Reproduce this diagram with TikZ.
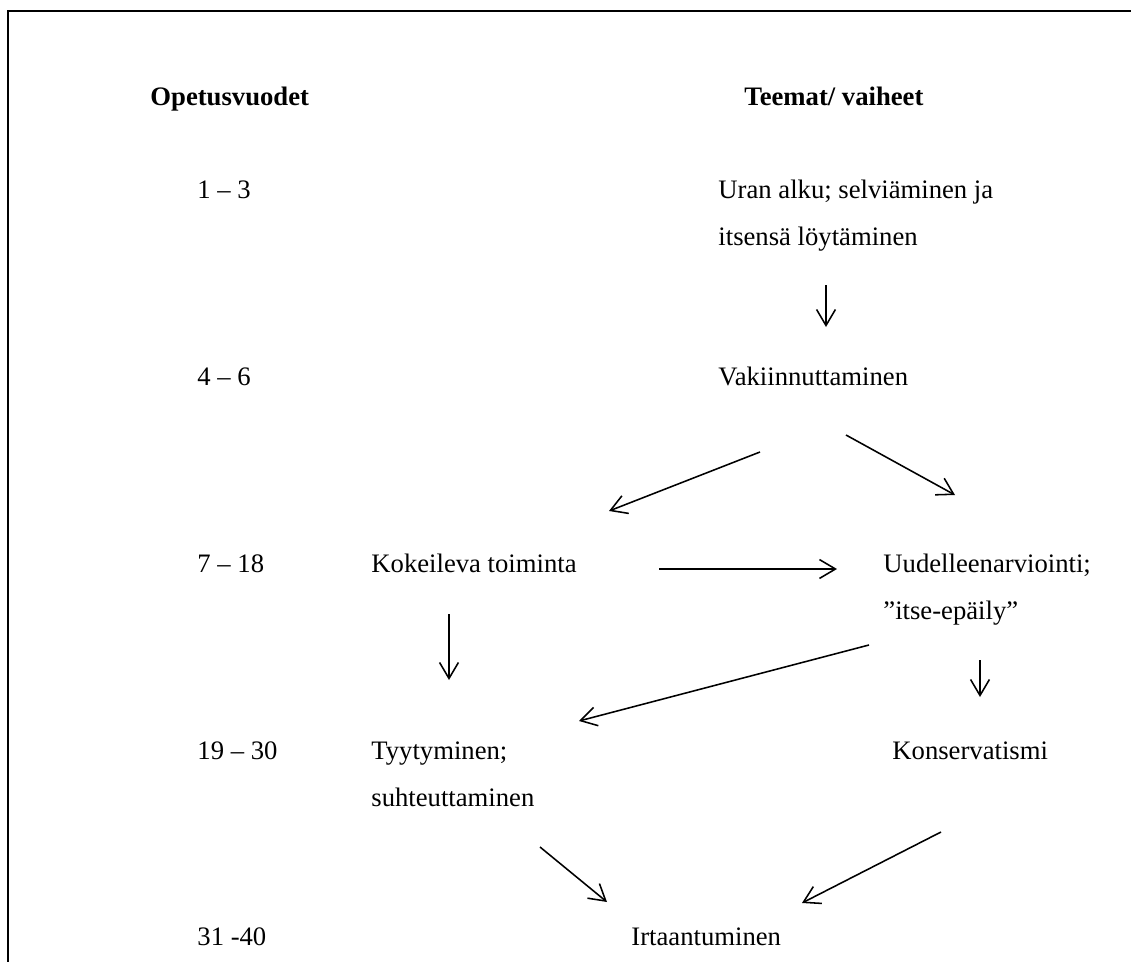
\documentclass[tikz,border=0pt]{standalone}
\usepackage{fontspec}
\setmainfont{Liberation Serif}
\usetikzlibrary{arrows.meta}
\begin{document}
\begin{tikzpicture}[x=0.45pt,y=-0.45pt,
  txt/.style={anchor=base west, inner sep=0pt, font=\fontsize{12pt}{14pt}\selectfont},
  hdr/.style={anchor=base west, inner sep=0pt, font=\fontsize{12pt}{14pt}\selectfont\bfseries},
  arr/.style={-{Straight Barb[length=7.2pt,width=8.5pt]}, line width=0.7pt},
  frameline/.style={line width=0.9pt}]
\useasboundingbox (0,0) rectangle (1131,962);
% frame
\coordinate (fbl) at (8,962);
\coordinate (ftl) at (8,10.5);
\coordinate (ftr) at (1131,10.5);
\draw[frameline] (fbl) -- (ftl) -- (ftr);
% headers
\node[hdr] (hdr1) at (150,105) {Opetusvuodet};
\node[hdr] (hdr2) at (744,105) {Teemat/ vaiheet};
% rows
\node[txt] (y1) at (197,198) {1 – 3};
\node[txt] (uran1) at (718,198) {Uran alku; selviäminen ja};
\node[txt] (uran2) at (718,245) {itsensä löytäminen};
\node[txt] (y2) at (197,385) {4 – 6};
\node[txt] (vak) at (718,385) {Vakiinnuttaminen};
\node[txt] (y3) at (197,572) {7 – 18};
\node[txt] (kok) at (371,572) {Kokeileva toiminta};
\node[txt] (uud1) at (883,572) {Uudelleenarviointi;};
\node[txt] (uud2) at (883,619) {”itse-epäily”};
\node[txt] (y4) at (197,759) {19 – 30};
\node[txt] (tyy1) at (371,759) {Tyytyminen;};
\node[txt] (tyy2) at (371,806) {suhteuttaminen};
\node[txt] (kon) at (892,759) {Konservatismi};
\node[txt] (y5) at (197,945) {31 -40};
\node[txt] (irt) at (631,945) {Irtaantuminen};
% arrow end points
\coordinate (a1s) at (826,285); \coordinate (a1e) at (826,327);
\coordinate (a2s) at (760,452); \coordinate (a2e) at (609,511);
\coordinate (a3s) at (846,435); \coordinate (a3e) at (955,495);
\coordinate (a4s) at (659,569); \coordinate (a4e) at (837,569);
\coordinate (a5s) at (449,614); \coordinate (a5e) at (449,680);
\coordinate (a6s) at (869,645); \coordinate (a6e) at (579,721);
\coordinate (a7s) at (980,660); \coordinate (a7e) at (980,697);
\coordinate (a8s) at (540,847); \coordinate (a8e) at (607,902);
\coordinate (a9s) at (941,832); \coordinate (a9e) at (802,903);
\draw[arr] (a1s) -- (a1e);
\draw[arr] (a2s) -- (a2e);
\draw[arr] (a3s) -- (a3e);
\draw[arr] (a4s) -- (a4e);
\draw[arr] (a5s) -- (a5e);
\draw[arr] (a6s) -- (a6e);
\draw[arr] (a7s) -- (a7e);
\draw[arr] (a8s) -- (a8e);
\draw[arr] (a9s) -- (a9e);
\end{tikzpicture}
\end{document}
